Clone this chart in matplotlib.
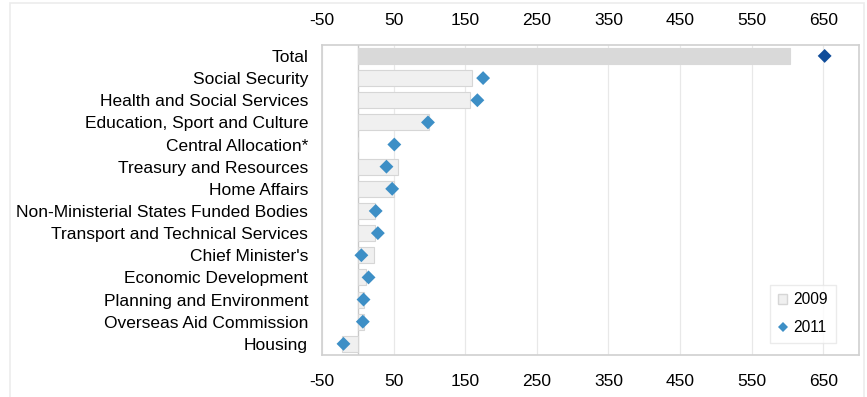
import matplotlib
matplotlib.use('Agg')
import matplotlib.pyplot as plt
from matplotlib.lines import Line2D
from matplotlib.patches import Patch
import numpy as np

plt.rcParams['font.family'] = ['Liberation Sans', 'DejaVu Sans']

# Spending by department (£m)
departments = [
    "Total", "Social Security", "Health and Social Services",
    "Education, Sport and Culture", "Central Allocation*",
    "Treasury and Resources", "Home Affairs",
    "Non-Ministerial States Funded Bodies",
    "Transport and Technical Services", "Chief Minister's",
    "Economic Development", "Planning and Environment",
    "Overseas Aid Commission", "Housing",
]
values_2009 = [603, 160, 157, 99, 0, 56, 50, 24, 24, 22, 12, 8, 8, -22]
values_2011 = [652, 175, 167, 98, 51, 40, 48, 25, 28, 5, 15, 8, 7, -20]

fig = plt.figure(figsize=(8.67, 3.97), dpi=100)
ax = fig.add_axes([0.3714, 0.106, 0.6194, 0.781])

y = np.arange(len(departments))
bar_colors = ['#d9d9d9'] + ['#f0f0f0'] * (len(departments) - 1)
edge_colors = ['#d9d9d9'] + ['#d6d6d6'] * (len(departments) - 1)
ax.barh(y, values_2009, height=0.72, color=bar_colors,
        edgecolor=edge_colors, linewidth=0.8, zorder=2)

dot_colors = ['#0f4c9a'] + ['#3d8fc6'] * (len(departments) - 1)
ax.scatter(values_2011, y, marker='D', s=50, c=dot_colors, zorder=3,
           linewidths=0)

ax.set_ylim(len(departments) - 0.5, -0.5)
ax.set_xlim(-50, 700)
ticks = np.arange(-50, 700, 100)
ax.set_xticks(ticks)
ax.set_xticklabels([str(t) for t in ticks])
ax.set_yticks(y)
ax.set_yticklabels(departments)
ax.tick_params(axis='x', length=0, labelsize=12.5, pad=14)
ax.tick_params(axis='y', length=0, labelsize=12.5, pad=10)

# same scale repeated along the top
top = ax.secondary_xaxis('top')
top.set_xticks(ticks)
top.set_xticklabels([str(t) for t in ticks])
top.tick_params(length=0, labelsize=12.5, pad=12)
top.spines['top'].set_visible(False)

ax.grid(axis='x', color='#e8e8e8', linewidth=0.9, zorder=0)
ax.axvline(0, color='#c8c8c8', linewidth=1.0, zorder=1)
for s in ax.spines.values():
    s.set_color('#d0d0d0')
    s.set_linewidth(1.2)

handles = [
    Patch(facecolor='#f0f0f0', edgecolor='#d6d6d6', label='2009'),
    Line2D([0], [0], marker='D', color='none', markerfacecolor='#3d8fc6',
           markeredgewidth=0, markersize=5, label='2011'),
]
ax.legend(handles=handles, loc='lower right', bbox_to_anchor=(0.957, 0.04),
          frameon=True, fontsize=11.2, handlelength=0.6, handleheight=0.6,
          handletextpad=0.4, borderpad=0.5, labelspacing=0.8,
          edgecolor='#e6e6e6', fancybox=False, borderaxespad=0)

# light frame around the figure
fig.add_artist(plt.Rectangle((0.011, -0.01), 0.985, 1.002,
                             transform=fig.transFigure, fill=False,
                             edgecolor='#ececec', linewidth=1.2))

fig.savefig('out.png', dpi=100, facecolor='white')
